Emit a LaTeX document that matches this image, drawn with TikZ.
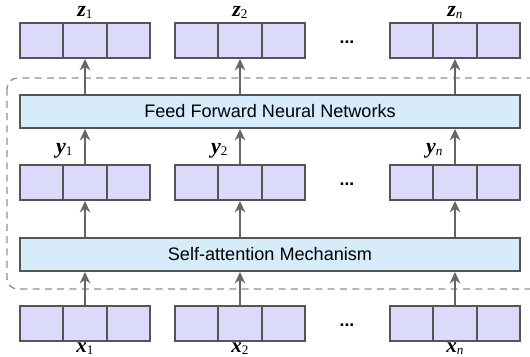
\documentclass[tikz,border=0pt]{standalone}
\usepackage{fontspec}
\setmainfont{Liberation Sans}
\newfontfamily\lblfont{Liberation Serif}
\usetikzlibrary{arrows.meta, positioning}

\definecolor{cellfill}{RGB}{220,218,250}
\definecolor{layerfill}{RGB}{214,236,250}
\definecolor{edge}{RGB}{85,85,85}

\newcommand{\veclab}[2]{{\bfseries\itshape #1}\raisebox{-0.2ex}{\fontsize{7.5}{7.5}\selectfont #2}}

\tikzset{
	cell/.style = {draw = edge, line width = 1.1pt, fill = cellfill, minimum width = 0.8667cm, minimum height = 0.7cm, inner sep = 0pt},
	layer/.style = {draw = edge, line width = 1.1pt, fill = layerfill, minimum width = 10cm, minimum height = 0.66cm, inner sep = 0pt, font = \fontsize{10.3}{12}\selectfont},
	flow/.style = {draw = edge!90, line width = 1pt, -{Stealth[length = 6.5pt, width = 6pt]}},
	veclabel/.style = {font = \lblfont\fontsize{12.5}{12.5}\selectfont, inner sep = 0pt},
	dots/.style = {font = \bfseries, inner sep = 0pt}
}

\begin{document}
\begin{tikzpicture}[x = 0.02cm, y = -0.02cm]

	\useasboundingbox (0, 2) rectangle (530, 358);

	% Encoder block

	\draw [dashed, dash pattern = on 4pt off 3pt, edge!65, line width = 0.8pt, rounded corners = 6pt] (7, 80) rectangle (545, 291);

	% Layers

	\node [layer] (ffn) at (270, 113.5) {Feed Forward Neural Networks};
	\node [layer] (sa) at (270, 256.5) {Self-attention Mechanism};

	% Vectors

	\foreach \c/\l/\s in {1/20/1, 2/175/2, n/390/\textit{n}} {

		\foreach \k in {1, 2, 3} {
			\node [cell] (in\c-\k) at (\l + 43.33 * \k - 21.67, 325.5) {};
			\node [cell] (hid\c-\k) at (\l + 43.33 * \k - 21.67, 184.5) {};
			\node [cell] (out\c-\k) at (\l + 43.33 * \k - 21.67, 42.5) {};
		}

		% Labels

		\node [veclabel, below = 0.3pt of in\c-2, font = \lblfont\fontsize{12}{12}\selectfont] (x\c) {\veclab{x}{\s}};
		\node [veclabel, above left = 3pt and 7pt of hid\c-2.north] (y\c) {\veclab{y}{\s}};
		\node [veclabel, above = 2pt of out\c-2] (z\c) {\veclab{z}{\s}};

		% Arrows

		\draw [flow] (in\c-2.north) -- (in\c-2.north |- sa.south);
		\draw [flow] (sa.north -| hid\c-2) -- (hid\c-2.south);
		\draw [flow] (hid\c-2.north) -- (hid\c-2.north |- ffn.south);
		\draw [flow] (ffn.north -| out\c-2) -- (out\c-2.south);
	}

	% Dots

	\node [dots] (dots-in) at (347, 327) {...};
	\node [dots] (dots-hid) at (347, 186) {...};
	\node [dots] (dots-out) at (347, 44) {...};

\end{tikzpicture}
\end{document}
